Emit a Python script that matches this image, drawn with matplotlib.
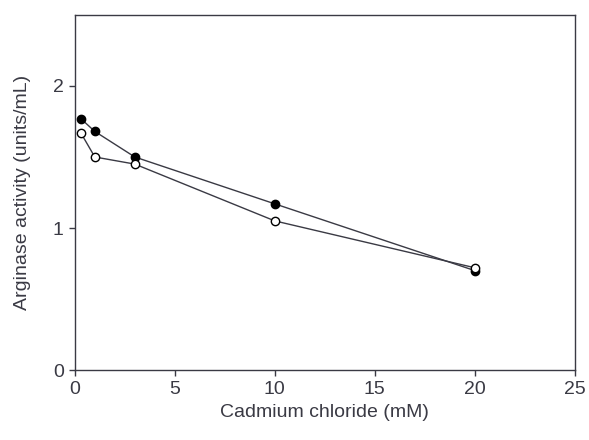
import matplotlib
matplotlib.use("Agg")
import matplotlib.pyplot as plt

# Cadmium chloride concentration (mM)
conc = [0.3, 1, 3, 10, 20]
# arginase activity (units/mL), filled and open series
filled = [1.77, 1.68, 1.50, 1.17, 0.70]
opened = [1.67, 1.50, 1.45, 1.05, 0.72]

plt.rcParams["font.family"] = ["Liberation Sans", "DejaVu Sans"]
ink = "#3a3a44"

fig = plt.figure(figsize=(5.89, 4.40), dpi=100)
ax = fig.add_axes([0.127, 0.159, 0.849, 0.807])

ax.plot(conc, filled, "-o", color=ink, lw=1.0, ms=6,
        mfc="black", mec="black", zorder=3)
ax.plot(conc, opened, "-o", color=ink, lw=1.0, ms=6,
        mfc="white", mec="black", mew=1.0, zorder=4)

ax.set_xlim(0, 25)
ax.set_ylim(0, 2.5)
ax.set_xticks([0, 5, 10, 15, 20, 25])
ax.set_yticks([0, 1, 2])
ax.set_xlabel("Cadmium chloride (mM)", fontsize=14, color=ink, labelpad=4)
ax.set_ylabel("Arginase activity (units/mL)", fontsize=14, color=ink, labelpad=16)
ax.tick_params(direction="out", length=4, width=1, colors=ink, labelsize=14, pad=4)
for s in ax.spines.values():
    s.set_color(ink)
    s.set_linewidth(1.0)

fig.savefig("out.png", dpi=100)
